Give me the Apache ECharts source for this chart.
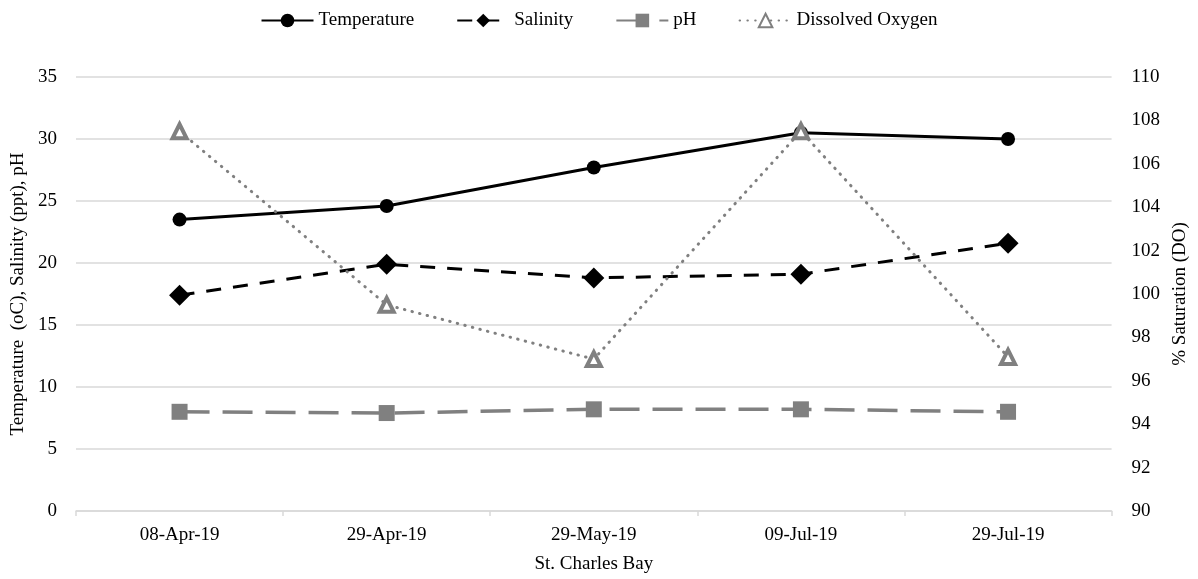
<!DOCTYPE html>
<html>
<head>
<meta charset="utf-8">
<script src="https://cdn.jsdelivr.net/npm/echarts@6/dist/echarts.min.js"></script>
<style>
  html, body { margin: 0; padding: 0; background: #ffffff; }
  #chart { width: 1198px; height: 579px; }
</style>
</head>
<body>
<div id="chart"></div>
<script>
// Sampling dates at St. Charles Bay
const categories = ['08-Apr-19', '29-Apr-19', '29-May-19', '09-Jul-19', '29-Jul-19'];

// Left axis: temperature (oC), salinity (ppt), pH
const temperature = [23.5, 24.6, 27.7, 30.5, 30.0];
const salinity = [17.4, 19.9, 18.8, 19.1, 21.6];
const ph = [8.0, 7.9, 8.2, 8.2, 8.0];

// Right axis: dissolved oxygen, % saturation
const dissolvedOxygen = [107.5, 99.5, 97.0, 107.5, 97.1];

const FONT = '"Liberation Serif", "Times New Roman", serif';
const GREY = '#808080';
const GRID = '#d9d9d9';

const chart = echarts.init(document.getElementById('chart'), null, { renderer: 'canvas' });

chart.setOption({
  animation: false,
  backgroundColor: '#ffffff',
  textStyle: { fontFamily: FONT, color: '#000' },
  legend: {
    top: 6,
    left: 'center',
    itemWidth: 52,
    itemHeight: 17,
    itemGap: 42,
    textStyle: { fontFamily: FONT, fontSize: 19, color: '#000' },
    data: ['Temperature', 'Salinity', 'pH', 'Dissolved Oxygen']
  },
  grid: { left: 76, right: 81, top: 77, bottom: 68, containLabel: false },
  xAxis: {
    type: 'category',
    data: categories,
    boundaryGap: true,
    name: 'St. Charles Bay',
    nameLocation: 'middle',
    nameGap: 44,
    nameTextStyle: { fontFamily: FONT, fontSize: 19, color: '#000' },
    axisLine: { lineStyle: { color: GRID, width: 1.5 } },
    axisTick: { show: true, length: 5, lineStyle: { color: GRID, width: 1.5 } },
    axisLabel: { margin: 15, fontFamily: FONT, fontSize: 19, color: '#000' }
  },
  yAxis: [
    {
      type: 'value',
      min: 0, max: 35, interval: 5,
      name: 'Temperature  (oC), Salinity (ppt), pH',
      nameLocation: 'middle',
      nameGap: 47,
      nameTextStyle: { fontFamily: FONT, fontSize: 19, color: '#000' },
      axisLine: { show: false },
      axisTick: { show: false },
      axisLabel: { margin: 19, fontFamily: FONT, fontSize: 19, color: '#000' },
      splitLine: { lineStyle: { color: GRID, width: 1.5 } }
    },
    {
      type: 'value',
      min: 90, max: 110, interval: 2,
      name: '% Saturation (DO)',
      nameLocation: 'middle',
      nameGap: 58,
      nameTextStyle: { fontFamily: FONT, fontSize: 19, color: '#000' },
      axisLine: { show: false },
      axisTick: { show: false },
      axisLabel: { margin: 20, fontFamily: FONT, fontSize: 19, color: '#000' },
      splitLine: { show: false }
    }
  ],
  series: [
    {
      name: 'Temperature',
      type: 'line',
      yAxisIndex: 0,
      data: temperature,
      symbol: 'circle',
      symbolSize: 14,
      itemStyle: { color: '#000' },
      lineStyle: { color: '#000', width: 3 },
      z: 4
    },
    {
      name: 'Salinity',
      type: 'line',
      yAxisIndex: 0,
      data: salinity,
      symbol: 'diamond',
      symbolSize: 21,
      itemStyle: { color: '#000' },
      lineStyle: { color: '#000', width: 3, type: [15, 12] },
      z: 3
    },
    {
      name: 'pH',
      type: 'line',
      yAxisIndex: 0,
      data: ph,
      symbol: 'rect',
      symbolSize: 16,
      itemStyle: { color: GREY },
      lineStyle: { color: GREY, width: 3.5, type: [30, 13] },
      z: 2
    },
    {
      name: 'Dissolved Oxygen',
      type: 'line',
      yAxisIndex: 1,
      data: dissolvedOxygen,
      symbol: 'triangle',
      symbolSize: 14,
      itemStyle: { color: '#ffffff', borderColor: GREY, borderWidth: 4 },
      lineStyle: { color: GREY, width: 3, type: [0.5, 7.3], cap: 'round' },
      z: 5
    }
  ]
});
</script>
</body>
</html>
